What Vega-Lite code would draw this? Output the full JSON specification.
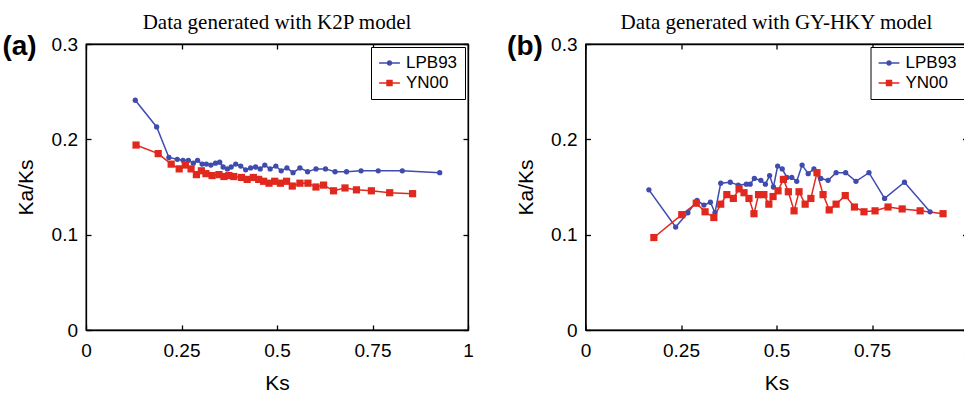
{
  "$schema": "https://vega.github.io/schema/vega-lite/v6.json",
  "padding": {"left": 1, "top": 11, "right": 0, "bottom": 0},
  "background": "#ffffff",
  "spacing": 31.5,
  "config": {
    "view": {"stroke": "#000000", "strokeWidth": 1.3},
    "font": "Liberation Sans",
    "axis": {
      "grid": false,
      "domainColor": "#000000",
      "domainWidth": 1.3,
      "tickColor": "#000000",
      "tickWidth": 1.3,
      "tickSize": -5,
      "labelFont": "Liberation Sans",
      "labelFontSize": 19,
      "labelColor": "#000000",
      "labelFlush": false,
      "labelOverlap": false,
      "labelExpr": "'' + datum.value",
      "titleFont": "Liberation Sans",
      "titleFontSize": 21,
      "titleFontWeight": "normal",
      "titleColor": "#000000"
    },
    "axisX": {"labelPadding": 16, "titlePadding": 12.5},
    "axisY": {"labelPadding": 13.5, "titlePadding": 14.5},
    "legend": {
      "orient": "top-right", "offset": 3, "padding": 7.5,
      "strokeColor": "#000000", "strokeWidth": 1, "fillColor": "#ffffff", "cornerRadius": 0,
      "labelFont": "Liberation Sans", "labelFontSize": 17, "labelColor": "#000000",
      "symbolSize": 169, "symbolOffset": 2.5, "labelOffset": 8, "rowPadding": 2,
      "symbolStrokeWidth": 1.5, "symbolOpacity": 1
    },
    "title": {"font": "Liberation Serif", "fontSize": 21, "fontWeight": "normal", "color": "#000000", "frame": "group", "offset": -0.5}
  },
  "datasets": {
    "k2p": [
      {"method": "LPB93", "Ks": 0.129, "KaKs": 0.241},
      {"method": "LPB93", "Ks": 0.185, "KaKs": 0.213},
      {"method": "LPB93", "Ks": 0.217, "KaKs": 0.181},
      {"method": "LPB93", "Ks": 0.239, "KaKs": 0.179},
      {"method": "LPB93", "Ks": 0.254, "KaKs": 0.178},
      {"method": "LPB93", "Ks": 0.268, "KaKs": 0.178},
      {"method": "LPB93", "Ks": 0.281, "KaKs": 0.175},
      {"method": "LPB93", "Ks": 0.292, "KaKs": 0.178},
      {"method": "LPB93", "Ks": 0.304, "KaKs": 0.174},
      {"method": "LPB93", "Ks": 0.315, "KaKs": 0.174},
      {"method": "LPB93", "Ks": 0.327, "KaKs": 0.173},
      {"method": "LPB93", "Ks": 0.339, "KaKs": 0.175},
      {"method": "LPB93", "Ks": 0.350, "KaKs": 0.176},
      {"method": "LPB93", "Ks": 0.359, "KaKs": 0.171},
      {"method": "LPB93", "Ks": 0.370, "KaKs": 0.169},
      {"method": "LPB93", "Ks": 0.380, "KaKs": 0.171},
      {"method": "LPB93", "Ks": 0.392, "KaKs": 0.174},
      {"method": "LPB93", "Ks": 0.405, "KaKs": 0.172},
      {"method": "LPB93", "Ks": 0.418, "KaKs": 0.168},
      {"method": "LPB93", "Ks": 0.431, "KaKs": 0.170},
      {"method": "LPB93", "Ks": 0.444, "KaKs": 0.171},
      {"method": "LPB93", "Ks": 0.456, "KaKs": 0.169},
      {"method": "LPB93", "Ks": 0.468, "KaKs": 0.173},
      {"method": "LPB93", "Ks": 0.482, "KaKs": 0.169},
      {"method": "LPB93", "Ks": 0.497, "KaKs": 0.172},
      {"method": "LPB93", "Ks": 0.511, "KaKs": 0.167},
      {"method": "LPB93", "Ks": 0.526, "KaKs": 0.170},
      {"method": "LPB93", "Ks": 0.542, "KaKs": 0.165},
      {"method": "LPB93", "Ks": 0.560, "KaKs": 0.170},
      {"method": "LPB93", "Ks": 0.580, "KaKs": 0.166},
      {"method": "LPB93", "Ks": 0.602, "KaKs": 0.169},
      {"method": "LPB93", "Ks": 0.627, "KaKs": 0.169},
      {"method": "LPB93", "Ks": 0.652, "KaKs": 0.166},
      {"method": "LPB93", "Ks": 0.682, "KaKs": 0.166},
      {"method": "LPB93", "Ks": 0.720, "KaKs": 0.167},
      {"method": "LPB93", "Ks": 0.765, "KaKs": 0.167},
      {"method": "LPB93", "Ks": 0.828, "KaKs": 0.167},
      {"method": "LPB93", "Ks": 0.926, "KaKs": 0.165},
      {"method": "YN00", "Ks": 0.131, "KaKs": 0.194},
      {"method": "YN00", "Ks": 0.189, "KaKs": 0.185},
      {"method": "YN00", "Ks": 0.223, "KaKs": 0.174},
      {"method": "YN00", "Ks": 0.244, "KaKs": 0.169},
      {"method": "YN00", "Ks": 0.260, "KaKs": 0.173},
      {"method": "YN00", "Ks": 0.275, "KaKs": 0.169},
      {"method": "YN00", "Ks": 0.289, "KaKs": 0.163},
      {"method": "YN00", "Ks": 0.302, "KaKs": 0.167},
      {"method": "YN00", "Ks": 0.314, "KaKs": 0.164},
      {"method": "YN00", "Ks": 0.330, "KaKs": 0.162},
      {"method": "YN00", "Ks": 0.348, "KaKs": 0.163},
      {"method": "YN00", "Ks": 0.361, "KaKs": 0.161},
      {"method": "YN00", "Ks": 0.374, "KaKs": 0.162},
      {"method": "YN00", "Ks": 0.387, "KaKs": 0.161},
      {"method": "YN00", "Ks": 0.407, "KaKs": 0.160},
      {"method": "YN00", "Ks": 0.422, "KaKs": 0.158},
      {"method": "YN00", "Ks": 0.438, "KaKs": 0.160},
      {"method": "YN00", "Ks": 0.452, "KaKs": 0.158},
      {"method": "YN00", "Ks": 0.465, "KaKs": 0.156},
      {"method": "YN00", "Ks": 0.479, "KaKs": 0.154},
      {"method": "YN00", "Ks": 0.494, "KaKs": 0.156},
      {"method": "YN00", "Ks": 0.509, "KaKs": 0.154},
      {"method": "YN00", "Ks": 0.525, "KaKs": 0.156},
      {"method": "YN00", "Ks": 0.540, "KaKs": 0.151},
      {"method": "YN00", "Ks": 0.560, "KaKs": 0.154},
      {"method": "YN00", "Ks": 0.581, "KaKs": 0.154},
      {"method": "YN00", "Ks": 0.602, "KaKs": 0.150},
      {"method": "YN00", "Ks": 0.622, "KaKs": 0.152},
      {"method": "YN00", "Ks": 0.648, "KaKs": 0.146},
      {"method": "YN00", "Ks": 0.678, "KaKs": 0.149},
      {"method": "YN00", "Ks": 0.708, "KaKs": 0.147},
      {"method": "YN00", "Ks": 0.747, "KaKs": 0.146},
      {"method": "YN00", "Ks": 0.795, "KaKs": 0.144},
      {"method": "YN00", "Ks": 0.855, "KaKs": 0.143}
    ],
    "gyhky": [
      {"method": "LPB93", "Ks": 0.166, "KaKs": 0.147},
      {"method": "LPB93", "Ks": 0.236, "KaKs": 0.108},
      {"method": "LPB93", "Ks": 0.268, "KaKs": 0.123},
      {"method": "LPB93", "Ks": 0.292, "KaKs": 0.136},
      {"method": "LPB93", "Ks": 0.310, "KaKs": 0.131},
      {"method": "LPB93", "Ks": 0.327, "KaKs": 0.134},
      {"method": "LPB93", "Ks": 0.339, "KaKs": 0.123},
      {"method": "LPB93", "Ks": 0.354, "KaKs": 0.154},
      {"method": "LPB93", "Ks": 0.379, "KaKs": 0.155},
      {"method": "LPB93", "Ks": 0.400, "KaKs": 0.152},
      {"method": "LPB93", "Ks": 0.421, "KaKs": 0.153},
      {"method": "LPB93", "Ks": 0.431, "KaKs": 0.153},
      {"method": "LPB93", "Ks": 0.442, "KaKs": 0.159},
      {"method": "LPB93", "Ks": 0.459, "KaKs": 0.157},
      {"method": "LPB93", "Ks": 0.471, "KaKs": 0.153},
      {"method": "LPB93", "Ks": 0.482, "KaKs": 0.162},
      {"method": "LPB93", "Ks": 0.492, "KaKs": 0.150},
      {"method": "LPB93", "Ks": 0.503, "KaKs": 0.172},
      {"method": "LPB93", "Ks": 0.515, "KaKs": 0.169},
      {"method": "LPB93", "Ks": 0.527, "KaKs": 0.160},
      {"method": "LPB93", "Ks": 0.540, "KaKs": 0.160},
      {"method": "LPB93", "Ks": 0.553, "KaKs": 0.156},
      {"method": "LPB93", "Ks": 0.567, "KaKs": 0.173},
      {"method": "LPB93", "Ks": 0.583, "KaKs": 0.164},
      {"method": "LPB93", "Ks": 0.598, "KaKs": 0.169},
      {"method": "LPB93", "Ks": 0.616, "KaKs": 0.159},
      {"method": "LPB93", "Ks": 0.635, "KaKs": 0.157},
      {"method": "LPB93", "Ks": 0.656, "KaKs": 0.165},
      {"method": "LPB93", "Ks": 0.681, "KaKs": 0.165},
      {"method": "LPB93", "Ks": 0.708, "KaKs": 0.156},
      {"method": "LPB93", "Ks": 0.742, "KaKs": 0.165},
      {"method": "LPB93", "Ks": 0.783, "KaKs": 0.138},
      {"method": "LPB93", "Ks": 0.835, "KaKs": 0.155},
      {"method": "LPB93", "Ks": 0.902, "KaKs": 0.124},
      {"method": "YN00", "Ks": 0.179, "KaKs": 0.097},
      {"method": "YN00", "Ks": 0.252, "KaKs": 0.121},
      {"method": "YN00", "Ks": 0.290, "KaKs": 0.133},
      {"method": "YN00", "Ks": 0.313, "KaKs": 0.124},
      {"method": "YN00", "Ks": 0.336, "KaKs": 0.118},
      {"method": "YN00", "Ks": 0.354, "KaKs": 0.132},
      {"method": "YN00", "Ks": 0.370, "KaKs": 0.142},
      {"method": "YN00", "Ks": 0.387, "KaKs": 0.138},
      {"method": "YN00", "Ks": 0.402, "KaKs": 0.148},
      {"method": "YN00", "Ks": 0.415, "KaKs": 0.144},
      {"method": "YN00", "Ks": 0.428, "KaKs": 0.138},
      {"method": "YN00", "Ks": 0.441, "KaKs": 0.122},
      {"method": "YN00", "Ks": 0.453, "KaKs": 0.142},
      {"method": "YN00", "Ks": 0.467, "KaKs": 0.142},
      {"method": "YN00", "Ks": 0.480, "KaKs": 0.132},
      {"method": "YN00", "Ks": 0.491, "KaKs": 0.140},
      {"method": "YN00", "Ks": 0.504, "KaKs": 0.146},
      {"method": "YN00", "Ks": 0.518, "KaKs": 0.158},
      {"method": "YN00", "Ks": 0.531, "KaKs": 0.145},
      {"method": "YN00", "Ks": 0.546, "KaKs": 0.125},
      {"method": "YN00", "Ks": 0.559, "KaKs": 0.145},
      {"method": "YN00", "Ks": 0.575, "KaKs": 0.132},
      {"method": "YN00", "Ks": 0.590, "KaKs": 0.138},
      {"method": "YN00", "Ks": 0.606, "KaKs": 0.165},
      {"method": "YN00", "Ks": 0.622, "KaKs": 0.142},
      {"method": "YN00", "Ks": 0.638, "KaKs": 0.126},
      {"method": "YN00", "Ks": 0.656, "KaKs": 0.132},
      {"method": "YN00", "Ks": 0.680, "KaKs": 0.141},
      {"method": "YN00", "Ks": 0.704, "KaKs": 0.129},
      {"method": "YN00", "Ks": 0.729, "KaKs": 0.124},
      {"method": "YN00", "Ks": 0.758, "KaKs": 0.125},
      {"method": "YN00", "Ks": 0.792, "KaKs": 0.129},
      {"method": "YN00", "Ks": 0.829, "KaKs": 0.127},
      {"method": "YN00", "Ks": 0.876, "KaKs": 0.125},
      {"method": "YN00", "Ks": 0.936, "KaKs": 0.122}
    ]
  },
  "hconcat": [
    {
      "width": 382,
      "height": 286,
      "title": {"text": "Data generated with K2P model"},
      "data": {"name": "k2p"},
      "resolve": {"axis": {"x": "independent", "y": "independent"}, "scale": {"shape": "independent", "fill": "independent", "stroke": "independent"}},
      "layer": [
        {
          "mark": {"type": "line", "strokeWidth": 1.5},
          "encoding": {
            "x": {"field": "Ks", "type": "quantitative", "scale": {"domain": [0, 1]}, "axis": {"orient": "bottom", "title": "Ks", "values": [0, 0.25, 0.5, 0.75, 1]}},
            "y": {"field": "KaKs", "type": "quantitative", "scale": {"domain": [0, 0.3]}, "axis": {"orient": "left", "title": "Ka/Ks", "values": [0, 0.1, 0.2, 0.3]}},
            "color": {"field": "method", "type": "nominal", "scale": {"domain": ["LPB93", "YN00"], "range": ["#3f4bad", "#e1281e"]}, "legend": null}
          }
        },
        {
          "mark": {"type": "point", "filled": true, "opacity": 1},
          "encoding": {
            "x": {"field": "Ks", "type": "quantitative", "scale": {"domain": [0, 1]}, "axis": {"orient": "top", "title": null, "labels": false, "values": [0, 0.25, 0.5, 0.75, 1]}},
            "y": {"field": "KaKs", "type": "quantitative", "scale": {"domain": [0, 0.3]}, "axis": {"orient": "right", "title": null, "labels": false, "values": [0, 0.1, 0.2, 0.3]}},
            "color": {"field": "method", "type": "nominal", "scale": {"domain": ["LPB93", "YN00"], "range": ["#3f4bad", "#e1281e"]}, "legend": null},
            "shape": {"field": "method", "type": "nominal", "scale": {"domain": ["LPB93", "YN00"], "range": ["circle", "square"]}, "legend": null},
            "size": {"field": "method", "type": "nominal", "scale": {"domain": ["LPB93", "YN00"], "range": [28, 52]}, "legend": null}
          }
        },
        {
          "mark": {"type": "point", "opacity": 0},
          "encoding": {
            "x": {"field": "Ks", "type": "quantitative", "axis": null},
            "y": {"field": "KaKs", "type": "quantitative", "axis": null},
            "fill": {"field": "method", "type": "nominal", "scale": {"domain": ["LPB93", "YN00"], "range": ["#3f4bad", "#e1281e"]}, "legend": {"title": null}},
            "stroke": {"field": "method", "type": "nominal", "scale": {"domain": ["LPB93", "YN00"], "range": ["#3f4bad", "#e1281e"]}, "legend": {"title": null}},
            "shape": {"field": "method", "type": "nominal", "scale": {"domain": ["LPB93", "YN00"], "range": ["M-1.6,0H1.6M-0.31,0A0.31,0.31 0 1,1 0.31,0A0.31,0.31 0 1,1 -0.31,0Z", "M-1.6,0H1.6M-0.38,-0.38H0.38V0.38H-0.38Z"]}, "legend": {"title": null}}
          }
        },
        {
          "data": {"values": [{"label": "(a)"}]},
          "mark": {"type": "text", "font": "Liberation Sans", "fontSize": 28, "fontWeight": "bold", "align": "center", "baseline": "middle", "color": "#000000"},
          "encoding": {
            "x": {"datum": -0.174, "type": "quantitative", "axis": null},
            "y": {"datum": 0.297, "type": "quantitative", "axis": null},
            "text": {"field": "label", "type": "nominal"}
          }
        }
      ]
    },
    {
      "width": 382,
      "height": 286,
      "title": {"text": "Data generated with GY-HKY model"},
      "data": {"name": "gyhky"},
      "resolve": {"axis": {"x": "independent", "y": "independent"}, "scale": {"shape": "independent", "fill": "independent", "stroke": "independent"}},
      "layer": [
        {
          "mark": {"type": "line", "strokeWidth": 1.5},
          "encoding": {
            "x": {"field": "Ks", "type": "quantitative", "scale": {"domain": [0, 1]}, "axis": {"orient": "bottom", "title": "Ks", "values": [0, 0.25, 0.5, 0.75, 1]}},
            "y": {"field": "KaKs", "type": "quantitative", "scale": {"domain": [0, 0.3]}, "axis": {"orient": "left", "title": "Ka/Ks", "values": [0, 0.1, 0.2, 0.3]}},
            "color": {"field": "method", "type": "nominal", "scale": {"domain": ["LPB93", "YN00"], "range": ["#3f4bad", "#e1281e"]}, "legend": null}
          }
        },
        {
          "mark": {"type": "point", "filled": true, "opacity": 1},
          "encoding": {
            "x": {"field": "Ks", "type": "quantitative", "scale": {"domain": [0, 1]}, "axis": {"orient": "top", "title": null, "labels": false, "values": [0, 0.25, 0.5, 0.75, 1]}},
            "y": {"field": "KaKs", "type": "quantitative", "scale": {"domain": [0, 0.3]}, "axis": {"orient": "right", "title": null, "labels": false, "values": [0, 0.1, 0.2, 0.3]}},
            "color": {"field": "method", "type": "nominal", "scale": {"domain": ["LPB93", "YN00"], "range": ["#3f4bad", "#e1281e"]}, "legend": null},
            "shape": {"field": "method", "type": "nominal", "scale": {"domain": ["LPB93", "YN00"], "range": ["circle", "square"]}, "legend": null},
            "size": {"field": "method", "type": "nominal", "scale": {"domain": ["LPB93", "YN00"], "range": [28, 52]}, "legend": null}
          }
        },
        {
          "mark": {"type": "point", "opacity": 0},
          "encoding": {
            "x": {"field": "Ks", "type": "quantitative", "axis": null},
            "y": {"field": "KaKs", "type": "quantitative", "axis": null},
            "fill": {"field": "method", "type": "nominal", "scale": {"domain": ["LPB93", "YN00"], "range": ["#3f4bad", "#e1281e"]}, "legend": {"title": null}},
            "stroke": {"field": "method", "type": "nominal", "scale": {"domain": ["LPB93", "YN00"], "range": ["#3f4bad", "#e1281e"]}, "legend": {"title": null}},
            "shape": {"field": "method", "type": "nominal", "scale": {"domain": ["LPB93", "YN00"], "range": ["M-1.6,0H1.6M-0.31,0A0.31,0.31 0 1,1 0.31,0A0.31,0.31 0 1,1 -0.31,0Z", "M-1.6,0H1.6M-0.38,-0.38H0.38V0.38H-0.38Z"]}, "legend": {"title": null}}
          }
        },
        {
          "data": {"values": [{"label": "(b)"}]},
          "mark": {"type": "text", "font": "Liberation Sans", "fontSize": 28, "fontWeight": "bold", "align": "center", "baseline": "middle", "color": "#000000"},
          "encoding": {
            "x": {"datum": -0.1585, "type": "quantitative", "axis": null},
            "y": {"datum": 0.297, "type": "quantitative", "axis": null},
            "text": {"field": "label", "type": "nominal"}
          }
        }
      ]
    }
  ]
}
